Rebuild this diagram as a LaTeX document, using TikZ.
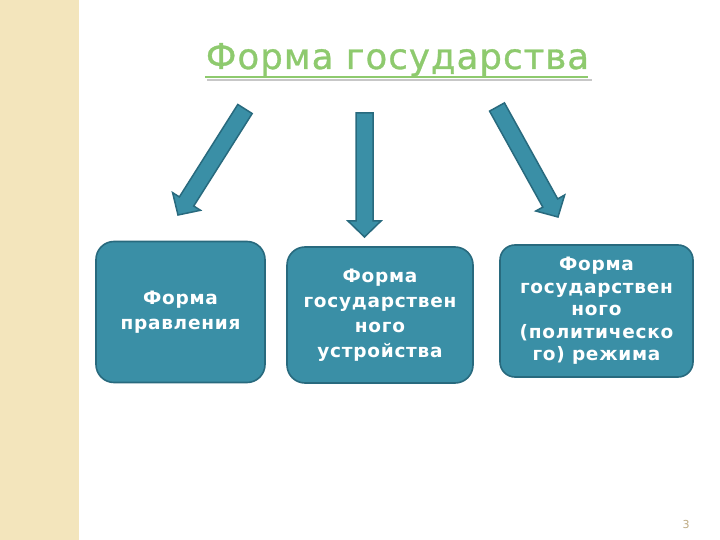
\documentclass[tikz,border=0pt]{standalone}
\usepackage{fontspec}
\setmainfont{DejaVu Sans}
\newfontfamily\boxfont[LetterSpace=4]{DejaVu Sans}
\newfontfamily\titlefont[LetterSpace=3,FakeBold=0.9]{DejaVu Sans}
\usetikzlibrary{positioning,calc}

\definecolor{boxfill}{RGB}{58,143,166}
\definecolor{boxline}{RGB}{40,106,126}
\definecolor{titlegreen}{RGB}{142,202,110}
\definecolor{stripbeige}{RGB}{243,229,188}
\definecolor{pagenum}{RGB}{190,170,130}

% block arrow from coordinate #1 (tail) to coordinate #2 (tip)
\newcommand{\fatarrow}[2]{%
  \coordinate (#1-base) at ($(#2)!16pt!(#1)$);
  \draw[fatarrow] ($(#1)!8.5pt!90:(#2)$) -- ($(#1-base)!8.5pt!-90:(#1)$)
    -- ($(#1-base)!16.5pt!-90:(#1)$) -- (#2) -- ($(#1-base)!16.5pt!90:(#1)$)
    -- ($(#1-base)!8.5pt!90:(#1)$) -- ($(#1)!8.5pt!-90:(#2)$) -- cycle;}

\begin{document}
\begin{tikzpicture}[x=1pt, y=-1pt,
        stage/.style={rectangle, rounded corners=18pt, draw=boxline, line width=1.6pt,
          fill=boxfill, text=white, align=center, inner sep=2pt,
          font=\boxfont\bfseries\fontsize{18.5}{25}\selectfont},
        fatarrow/.style={draw=boxline, line width=1.5pt, fill=boxfill, line join=miter},
        title/.style={font=\titlefont\fontsize{35.5}{40}\selectfont, inner sep=0pt, anchor=base}
        ]
      \useasboundingbox (0,0) rectangle (720,540);
      \fill[white] (0,0) rectangle (720,540);
      \fill[stripbeige] (0,0) rectangle (79,540);

      % title and its underline
      \draw[black!22, line width=2.2pt] (207,80) -- (592,80);
      \draw[titlegreen, line width=1.5pt] (205,77) -- (588,77);
      \node[title, text=titlegreen] (title) at (397.5,69) {Форма государства};

      \node[stage, minimum width=169pt, minimum height=141pt] (rule) at (180.5,312)
        {\rule{0pt}{6pt}Форма\\правления};
      \node[stage, minimum width=186pt, minimum height=136pt] (struct) at (380,315)
        {Форма\\государствен\\ного\\устройства};
      \node[stage, rounded corners=15pt, minimum width=193pt, minimum height=132pt,
        font=\boxfont\bfseries\fontsize{18.5}{22.5}\selectfont] (regime) at (596.5,311)
        {Форма\\государствен\\ного\\(политическо\\го) режима};

      \coordinate (la) at (245,109);  \coordinate (lb) at (178,215);
      \coordinate (ma) at (364.5,113); \coordinate (mb) at (364.5,237);
      \coordinate (ra) at (497,107);  \coordinate (rb) at (558,217);
      \fatarrow{la}{lb}
      \fatarrow{ma}{mb}
      \fatarrow{ra}{rb}

      \node[text=pagenum, font=\fontsize{11}{13}\selectfont] (page) at (686,524) {3};
    \end{tikzpicture}
\end{document}
